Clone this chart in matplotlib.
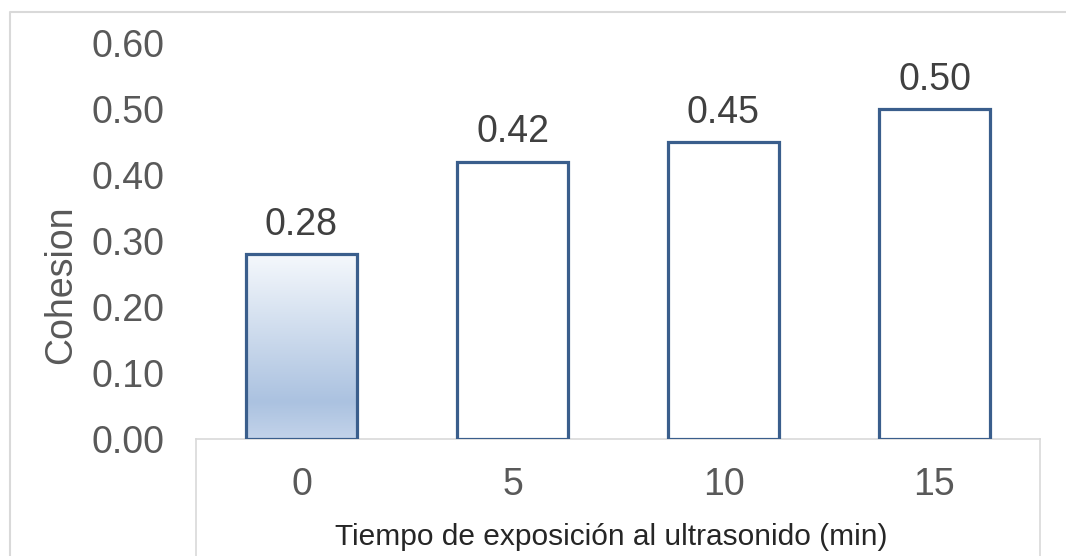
import numpy as np
from matplotlib import pyplot as plt
from matplotlib.lines import Line2D
from matplotlib.colors import LinearSegmentedColormap

plt.rcParams['font.family'] = ['Liberation Sans', 'DejaVu Sans']

## data
tiempos = ['0', '5', '10', '15']
cohesion = [0.28, 0.42, 0.45, 0.50]
yticks = [0.0, 0.1, 0.2, 0.3, 0.4, 0.5, 0.6]

edge = '#3A5E8C'
grid_gray = '#D9D9D9'

fig = plt.figure(figsize=(10.66, 5.56), dpi=100)
ax = fig.add_axes([196/1066, 1 - 439/556, 844/1066, 396/556])

x = np.arange(len(tiempos))
bars = ax.bar(x, cohesion, width=0.53, facecolor='white', edgecolor=edge,
              linewidth=2.3, zorder=3)

## gradient fill for the first bar (control)
grad = LinearSegmentedColormap.from_list(
    'azul', [(0.0, '#C3D3EA'), (0.2, '#ABC2E0'), (1.0, '#F5F8FC')])
b0 = bars[0]
img = ax.imshow(np.linspace(0, 1, 256).reshape(-1, 1), cmap=grad, origin='lower',
                aspect='auto', zorder=2,
                extent=[b0.get_x(), b0.get_x() + b0.get_width(), 0, b0.get_height()])
img.set_clip_path(b0)
b0.set_facecolor('none')

## value labels
for xi, v in zip(x, cohesion):
    ax.annotate(f'{v:.2f}', (xi, v), xytext=(0, 14), textcoords='offset points',
                ha='center', va='baseline', fontsize=27, color='#404040')

ax.set_xlim(-0.5, len(tiempos) - 0.5)
ax.set_ylim(0, 0.6)
ax.set_yticks(yticks)
ax.set_yticklabels([f'{t:.2f}' for t in yticks])
ax.set_xticks(x)
ax.set_xticklabels(tiempos)
ax.tick_params(axis='both', length=0, labelsize=27, labelcolor='#595959')
ax.tick_params(axis='y', pad=23)
ax.tick_params(axis='x', pad=20)

for s in ['top', 'left', 'right']:
    ax.spines[s].set_visible(False)
ax.spines['bottom'].set_color(grid_gray)
ax.spines['bottom'].set_linewidth(1.2)

ax.set_ylabel('Cohesion', fontsize=27, color='#595959')
ax.yaxis.set_label_coords(-0.138, 0.39)

ax.text(0.492, (439 - 545) / 396, 'Tiempo de exposición al ultrasonido (min)',
        transform=ax.transAxes, ha='center', va='baseline', fontsize=21.5,
        color='#262626')

## box under the plot area
for xa in [0, 1]:
    ax.plot([xa, xa], [0, -0.35], transform=ax.transAxes, color=grid_gray,
            lw=1.2, clip_on=False)

## outer frame
fig.add_artist(Line2D([9.5/1066, 9.5/1066, 1.0], [0, 1 - 12/556, 1 - 12/556],
                      transform=fig.transFigure, color=grid_gray, lw=1.5))

plt.savefig('out.png', dpi=100)
